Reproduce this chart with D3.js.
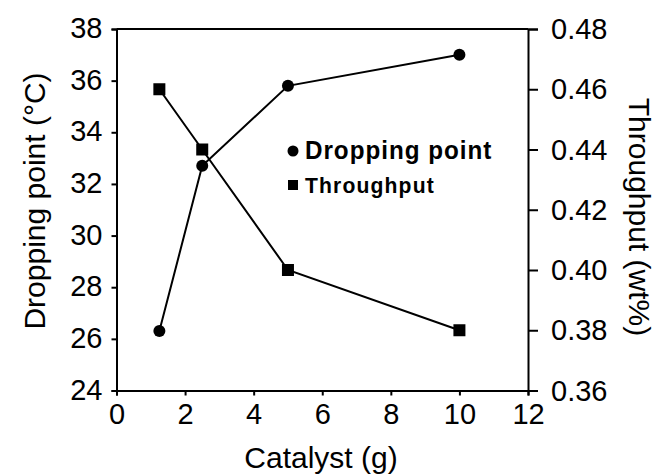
<!DOCTYPE html>
<html>
<head>
<meta charset="utf-8">
<script src="https://cdn.jsdelivr.net/npm/d3@7"></script>
<style>
  html, body { margin: 0; padding: 0; background: #fff; }
  svg text { font-family: "Liberation Sans", Arial, Helvetica, sans-serif; fill: #000; }
  .axis path, .axis line { stroke: #000; stroke-width: 2; }
</style>
</head>
<body>
<svg id="chart" width="655" height="476"></svg>
<script>
// catalyst amount (g)
const catalyst = [1.25, 2.5, 5, 10];
// dropping point (°C)
const droppingPoint = [26.3, 32.7, 35.8, 37.0];
// throughput (wt%)
const throughput = [0.46, 0.44, 0.40, 0.38];

const xTicks = [0, 2, 4, 6, 8, 10, 12];
const leftTicks = [24, 26, 28, 30, 32, 34, 36, 38];
const rightTicks = [0.36, 0.38, 0.40, 0.42, 0.44, 0.46, 0.48];

const svg = d3.select('#chart');
const m = {left: 116.5, right: 528, top: 29, bottom: 390.5};

const x = d3.scaleLinear().domain([0, 12]).range([m.left, m.right]);
const yL = d3.scaleLinear().domain([24, 38]).range([m.bottom, m.top]);
const yR = d3.scaleLinear().domain([0.36, 0.48]).range([m.bottom, m.top]);

// frame top line
svg.append('line')
    .attr('x1', m.left).attr('x2', m.right)
    .attr('y1', m.top).attr('y2', m.top)
    .attr('stroke', '#000').attr('stroke-width', 2);

const tickFont = 29;
const titleFont = 30;

svg.append('g')
    .attr('class', 'axis')
    .attr('transform', `translate(0,${m.bottom})`)
    .call(d3.axisBottom(x).tickValues(xTicks).tickSizeOuter(0).tickSize(5).tickPadding(8).tickFormat(d3.format('d')))
    .selectAll('text').style('font-size', `${tickFont}px`);

svg.append('g')
    .attr('class', 'axis')
    .attr('transform', `translate(${m.left},0)`)
    .call(d3.axisLeft(yL).tickValues(leftTicks).tickSizeOuter(0).tickSize(5).tickPadding(9).tickFormat(d3.format('d')))
    .selectAll('text').style('font-size', `${tickFont}px`).attr('dy', '0.3em');

svg.append('g')
    .attr('class', 'axis')
    .attr('transform', `translate(${m.right},0)`)
    .call(d3.axisRight(yR).tickValues(rightTicks).tickSizeOuter(0).tickSize(10).tickPadding(13).tickFormat(d3.format('.2f')))
    .selectAll('text').style('font-size', `${tickFont}px`).attr('dy', '0.33em');

// axis titles
svg.append('text')
    .attr('transform', 'translate(321,468)')
    .attr('text-anchor', 'middle')
    .style('font-size', `${titleFont}px`)
    .text('Catalyst (g)');

svg.append('text')
    .attr('transform', 'translate(45,201) rotate(-90)')
    .attr('text-anchor', 'middle')
    .style('font-size', `${titleFont}px`)
    .text('Dropping point (°C)');

svg.append('text')
    .attr('transform', 'translate(629,217) rotate(90)')
    .attr('text-anchor', 'middle')
    .style('font-size', `${titleFont}px`)
    .text('Throughput (wt%)');

// series
const lineL = d3.line().x((d, i) => x(catalyst[i])).y(d => yL(d));
const lineR = d3.line().x((d, i) => x(catalyst[i])).y(d => yR(d));

svg.append('path')
    .datum(droppingPoint)
    .attr('d', lineL)
    .attr('fill', 'none').attr('stroke', '#000').attr('stroke-width', 2);

svg.append('path')
    .datum(throughput)
    .attr('d', lineR)
    .attr('fill', 'none').attr('stroke', '#000').attr('stroke-width', 2);

svg.selectAll('.dp')
    .data(droppingPoint)
    .enter()
    .append('circle')
    .attr('class', 'dp')
    .attr('cx', (d, i) => x(catalyst[i]))
    .attr('cy', d => yL(d))
    .attr('r', 6)
    .attr('fill', '#000');

const sq = 12;
svg.selectAll('.tp')
    .data(throughput)
    .enter()
    .append('rect')
    .attr('class', 'tp')
    .attr('x', (d, i) => x(catalyst[i]) - sq / 2)
    .attr('y', d => yR(d) - sq / 2)
    .attr('width', sq).attr('height', sq)
    .attr('fill', '#000');

// legend
const legend = svg.append('g');
legend.append('circle')
    .attr('cx', 293).attr('cy', 151).attr('r', 5.5).attr('fill', '#000');
legend.append('text')
    .attr('transform', 'translate(305,159) scale(0.97,1)')
    .style('font-size', '25px').style('font-weight', 'bold').style('letter-spacing', '1px')
    .text('Dropping point');
legend.append('rect')
    .attr('x', 288).attr('y', 180).attr('width', 10).attr('height', 10).attr('fill', '#000');
legend.append('text')
    .attr('transform', 'translate(305,193) scale(0.96,1)')
    .style('font-size', '22px').style('font-weight', 'bold').style('letter-spacing', '1.2px')
    .text('Throughput');
</script>
</body>
</html>
